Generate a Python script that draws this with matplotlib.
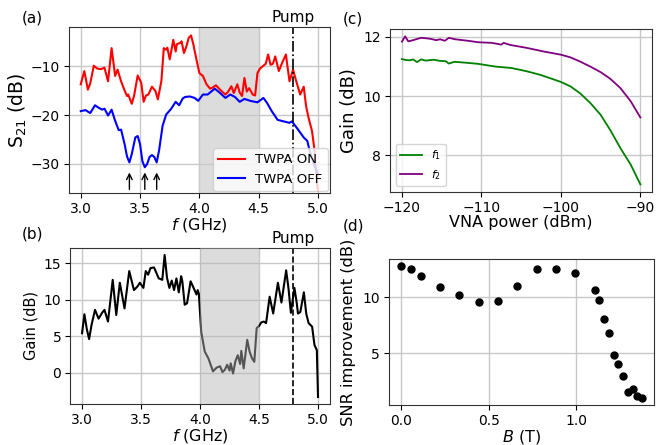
import matplotlib
matplotlib.use('Agg')
import matplotlib.pyplot as plt
import matplotlib.transforms as mtransforms

# (a) transmission, TWPA on / off
f_on = [3.00, 3.03, 3.06, 3.08, 3.11, 3.14, 3.17, 3.20, 3.23, 3.26, 3.29, 3.31, 3.34, 3.37, 3.39,
        3.40, 3.43, 3.45, 3.48, 3.51, 3.53, 3.55, 3.57, 3.60, 3.63, 3.65, 3.68, 3.70, 3.72, 3.73,
        3.75, 3.78, 3.80, 3.81, 3.84, 3.85, 3.87, 3.89, 3.91, 3.93, 3.95, 3.97, 4.00, 4.03, 4.06,
        4.09, 4.11, 4.14, 4.17, 4.20, 4.22, 4.24, 4.27, 4.29, 4.32, 4.34, 4.36, 4.38, 4.40, 4.42,
        4.45, 4.47, 4.49, 4.51, 4.54, 4.56, 4.58, 4.60, 4.62, 4.64, 4.67, 4.70, 4.73, 4.74, 4.76,
        4.79, 4.81, 4.85, 4.88, 4.90, 4.92, 4.95, 4.97, 4.99, 5.00]
s21_on = [-13.7, -11.0, -14.8, -13.5, -9.9, -10.5, -10.6, -10.3, -13.1, -6.3, -12.0, -10.7, -13.1, -15.0, -16.1,
          -15.8, -17.7, -16.0, -11.9, -13.4, -17.3, -16.0, -15.8, -14.2, -15.1, -16.8, -13.0, -6.3, -6.6, -6.2,
          -8.6, -4.6, -7.0, -5.5, -5.2, -4.9, -7.3, -6.0, -4.2, -3.7, -5.6, -8.0, -11.4, -12.0, -13.7,
          -14.6, -14.4, -13.9, -14.7, -15.4, -15.8, -15.3, -14.1, -15.5, -13.7, -15.4, -16.1, -12.4, -15.2, -14.5,
          -15.8, -16.0, -11.4, -10.5, -9.9, -9.5, -7.6, -9.7, -9.5, -8.0, -11.0, -9.2, -7.6, -9.5, -13.1,
          -10.7, -12.5, -15.8, -14.2, -18.2, -20.5, -23.3, -27.0, -33.8, -35.5]

f_off = [3.00, 3.04, 3.08, 3.12, 3.15, 3.18, 3.20, 3.23, 3.26, 3.29, 3.32, 3.34, 3.37, 3.39, 3.41,
         3.43, 3.46, 3.48, 3.50, 3.52, 3.54, 3.56, 3.58, 3.60, 3.62, 3.64, 3.66, 3.69, 3.72, 3.76,
         3.80, 3.83, 3.86, 3.88, 3.92, 3.96, 3.99, 4.03, 4.07, 4.10, 4.13, 4.17, 4.22, 4.26, 4.30,
         4.34, 4.38, 4.43, 4.49, 4.54, 4.57, 4.61, 4.66, 4.71, 4.76, 4.78, 4.83, 4.88, 4.91, 4.93,
         4.97, 5.00]
s21_off = [-19.2, -19.0, -19.6, -18.0, -18.5, -18.9, -18.7, -20.1, -18.9, -21.2, -23.1, -23.0, -26.0, -28.5, -29.7,
           -28.0, -24.6, -24.3, -26.0, -29.5, -30.7, -30.0, -28.6, -28.2, -28.6, -29.7, -27.3, -22.2, -19.9, -18.8,
           -17.3, -18.0, -16.6, -16.3, -16.2, -16.5, -17.1, -15.8, -15.8, -15.2, -14.6, -15.4, -16.5, -15.8, -16.3,
           -17.3, -16.7, -17.1, -17.4, -16.5, -17.5, -19.2, -21.0, -21.3, -21.6, -21.3, -22.9, -24.6, -25.3, -27.3,
           -30.4, -32.0]

dip_f = [3.41, 3.54, 3.64]

# (b) gain
f_gain = [3.00, 3.02, 3.04, 3.06, 3.08, 3.11, 3.14, 3.17, 3.19, 3.22, 3.26, 3.29, 3.32, 3.36, 3.40,
          3.44, 3.47, 3.49, 3.52, 3.54, 3.56, 3.58, 3.61, 3.65, 3.68, 3.70, 3.72, 3.74, 3.76, 3.78,
          3.80, 3.82, 3.84, 3.85, 3.87, 3.89, 3.92, 3.94, 3.97, 3.98, 3.99, 4.01, 4.04, 4.07, 4.11,
          4.14, 4.17, 4.19, 4.21, 4.23, 4.25, 4.26, 4.28, 4.30, 4.32, 4.34, 4.35, 4.37, 4.40, 4.42,
          4.44, 4.46, 4.48, 4.50, 4.52, 4.54, 4.56, 4.59, 4.62, 4.66, 4.69, 4.73, 4.75, 4.77, 4.80,
          4.82, 4.83, 4.85, 4.88, 4.90, 4.92, 4.95, 4.97, 4.99, 5.00]
gain = [5.4, 8.0, 6.0, 4.6, 6.5, 8.6, 7.4, 8.2, 8.6, 7.0, 12.7, 7.9, 12.3, 8.8, 13.9,
        11.3, 11.8, 12.3, 11.6, 13.9, 13.4, 14.3, 14.4, 12.9, 12.7, 16.1, 13.0, 11.6, 12.6, 11.3,
        12.9, 11.0, 13.2, 12.5, 9.3, 9.5, 12.5, 11.8, 10.7, 11.3, 10.8, 5.6, 2.9, 2.0, 0.2,
        0.7, 0.9, 0.1, 0.4, 1.1, 0.3, 1.3, -0.1, 1.6, 2.4, 1.2, 3.0, 0.6, 4.5, 2.9,
        2.0, 1.5, 6.1, 6.4, 6.9, 7.0, 6.8, 10.4, 8.1, 12.3, 9.6, 14.0, 11.5, 8.2, 11.6,
        9.5, 8.1, 8.3, 11.0, 8.1, 6.8, 6.3, 3.8, 3.1, -3.3]

pump_f = 4.79
band = (4.0, 4.5)

# (c) gain vs VNA power
p1 = [-120, -119.5, -119, -118.6, -118.1, -117.6, -117, -116, -115.2, -114.5, -114.1, -113.4,
      -112, -110.4, -108.3, -106.2, -104.3, -102.6, -101.4, -100, -98.8, -97.6, -96.3, -95,
      -93.8, -92.5, -91.2, -90]
g1 = [11.25, 11.22, 11.21, 11.24, 11.15, 11.24, 11.2, 11.23, 11.19, 11.18, 11.1, 11.16,
      11.13, 11.09, 11.0, 10.95, 10.84, 10.72, 10.61, 10.48, 10.33, 10.1, 9.77, 9.37,
      8.86, 8.24, 7.68, 7.02]
p2 = [-120, -119.6, -119.2, -118.6, -117.6, -116.8, -116.3, -115.7, -115.2, -114.6, -114.1, -113.3,
      -111.7, -110.4, -108.7, -107.5, -107.2, -106.4, -104.3, -102.2, -100, -98.8, -97.6, -96.3,
      -95, -93.8, -92.5, -91.2, -90]
g2 = [11.84, 12.02, 11.85, 11.89, 11.97, 11.95, 11.93, 11.89, 11.92, 11.87, 11.97, 11.92,
      11.87, 11.82, 11.8, 11.74, 11.8, 11.73, 11.63, 11.51, 11.4, 11.31, 11.17, 11.0,
      10.81, 10.59, 10.27, 9.82, 9.28]

# (d) SNR improvement vs field
B = [0.0, 0.058, 0.113, 0.223, 0.334, 0.443, 0.553, 0.662, 0.774, 0.883, 0.992,
     1.103, 1.13, 1.157, 1.184, 1.211, 1.238, 1.265, 1.293, 1.32, 1.347, 1.374]
snr = [12.85, 12.55, 11.92, 10.93, 10.21, 9.61, 9.70, 11.02, 12.55, 12.55, 12.22,
       10.69, 9.79, 8.09, 6.80, 4.88, 4.04, 2.96, 1.55, 1.77, 1.14, 0.96]

plt.rcParams['font.size'] = 10
plt.rcParams['axes.edgecolor'] = '#333333'
plt.rcParams['grid.color'] = '#c8c8c8'
plt.rcParams['grid.linewidth'] = 1.0
plt.rcParams['xtick.major.pad'] = 3
plt.rcParams['ytick.major.pad'] = 3

fig = plt.figure(figsize=(6.69, 4.45), dpi=100)
ax_a = fig.add_axes([0.103, 0.566, 0.390, 0.373])
ax_b = fig.add_axes([0.105, 0.092, 0.388, 0.351])
ax_c = fig.add_axes([0.583, 0.569, 0.392, 0.366])
ax_d = fig.add_axes([0.581, 0.090, 0.397, 0.328])

# (a)
ax_a.axvspan(*band, color='#dcdcdc', zorder=0)
ax_a.plot(f_on, s21_on, color='red', lw=1.5, label='TWPA ON')
ax_a.plot(f_off, s21_off, color='blue', lw=1.5, label='TWPA OFF')
ax_a.axvline(pump_f, color='black', ls='-.', lw=1.2)
for f in dip_f:
    ax_a.annotate('', xy=(f, -31.2), xytext=(f, -35.8),
                  arrowprops=dict(arrowstyle='->', color='black', lw=1.0))
ax_a.set_ylim(-36, -2)
ax_a.set_yticks([-30, -20, -10])
ax_a.set_ylabel(r'$\mathrm{S}_{21}$ (dB)', fontsize=13.5, labelpad=1)
ax_a.legend(loc='lower right', fontsize=9.5, borderaxespad=0.15)

# (b)
ax_b.plot(f_gain, gain, color='black', lw=1.5)
ax_b.axvspan(*band, color=(0.71, 0.71, 0.71), alpha=0.47, lw=0, zorder=3)
ax_b.axvline(pump_f, color='black', ls='--', lw=1.2)
ax_b.set_yticks([0, 5, 10, 15])
ax_b.set_ylabel('Gain (dB)', fontsize=10.5)

for ax in (ax_a, ax_b):
    ax.set_xticks([3.0, 3.5, 4.0, 4.5, 5.0])
    ax.set_xlabel('$f$ (GHz)', fontsize=11.5, labelpad=0)
    trans = mtransforms.blended_transform_factory(ax.transData, ax.transAxes)
    ax.text(pump_f, 1.01, 'Pump', transform=trans, ha='center', va='bottom', fontsize=11)

# (c)
ax_c.plot(p1, g1, color='green', lw=1.3, label='$f_1$')
ax_c.plot(p2, g2, color='purple', lw=1.3, label='$f_2$')
ax_c.set_xticks([-120, -110, -100, -90])
ax_c.set_yticks([8, 10, 12])
ax_c.set_xlabel('VNA power (dBm)', fontsize=11.5, labelpad=0)
ax_c.set_ylabel('Gain (dB)', fontsize=13)
ax_c.legend(loc='lower left', fontsize=8)

# (d)
ax_d.plot(B, snr, 'o', color='black', ms=5)
ax_d.set_xticks([0.0, 0.5, 1.0])
ax_d.set_yticks([5, 10])
ax_d.set_xlabel('$B$ (T)', fontsize=11.5, labelpad=0)
ax_d.set_ylabel('SNR improvement (dB)', fontsize=11.7)

for ax in (ax_a, ax_b, ax_c, ax_d):
    ax.grid(True)
    ax.set_axisbelow(True)

fig.text(22 / 669, 1 - 18 / 445, '(a)', va='center', fontsize=11)
fig.text(22 / 669, 1 - 234 / 445, '(b)', va='center', fontsize=11)
fig.text(343 / 669, 1 - 19 / 445, '(c)', va='center', fontsize=11)
fig.text(343 / 669, 1 - 226 / 445, '(d)', va='center', fontsize=11)

fig.savefig('out.png', dpi=100)
